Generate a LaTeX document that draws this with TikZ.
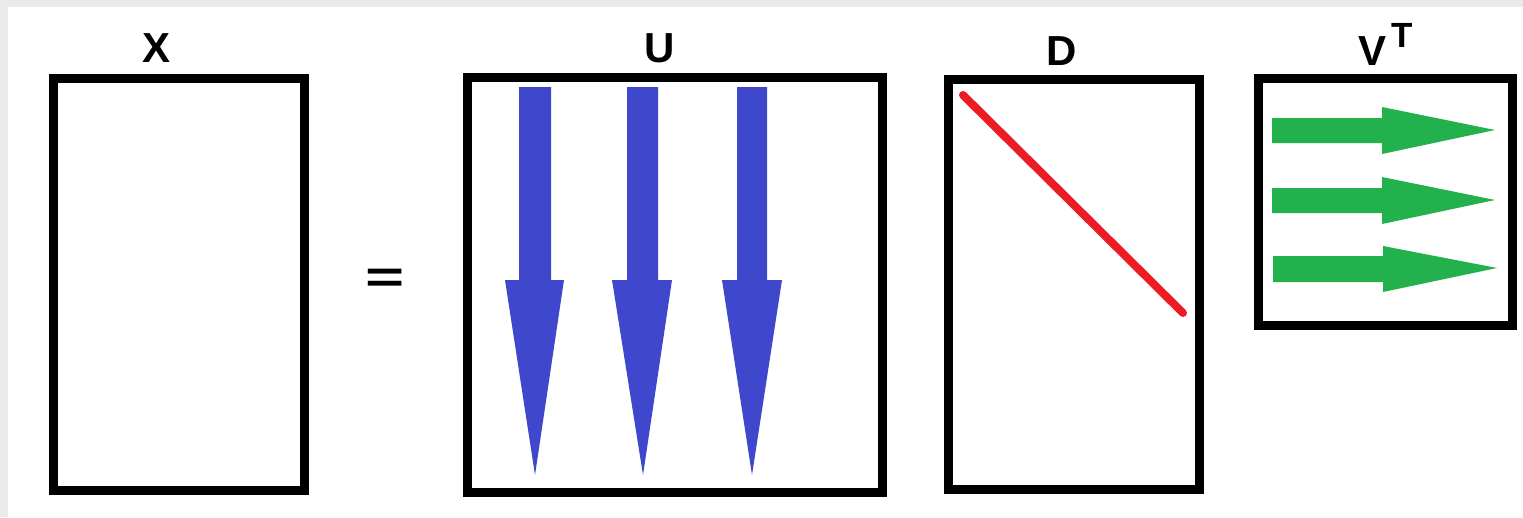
\documentclass[tikz,border=0pt]{standalone}
\usepackage{fontspec}
\setmainfont{Liberation Sans}
\definecolor{uBlue}{RGB}{63,72,204}
\definecolor{vGreen}{RGB}{34,177,76}
\definecolor{dRed}{RGB}{237,28,36}
\definecolor{frameGray}{RGB}{234,234,234}
\begin{document}
\begin{tikzpicture}[x=1pt,y=-1pt,
  mat/.style={draw=black,line width=9pt,rectangle,inner sep=0pt,outer sep=0pt,fill=white},
  lbl/.style={font=\fontsize{42}{42}\selectfont\bfseries,inner sep=0pt,anchor=base},
  uarrow/.style={fill=uBlue,draw=none},
  varrow/.style={fill=vGreen,draw=none}]
\useasboundingbox (0,0) rectangle (1523,517);
\fill[frameGray] (0,0) rectangle (1523,517);
\fill[white] (8,7) rectangle (1523,517);
% matrices
\node[mat,minimum width=251pt,minimum height=412pt] (X) at (179,284.5) {};
\node[mat,minimum width=415pt,minimum height=415.5pt] (U) at (674.5,284.75) {};
\node[mat,minimum width=251pt,minimum height=410pt] (D) at (1073.5,284.5) {};
\node[mat,minimum width=253.5pt,minimum height=247pt] (V) at (1385.25,202) {};
% labels
\node[lbl] (Xl) at (157,62) {X};
\node[lbl] (Ul) at (660,62) {U};
\node[lbl] (Dl) at (1062,65) {D};
\node[lbl] (Vl) at (1386,65) {V\hspace{5pt}\raisebox{18pt}{\fontsize{35}{35}\selectfont T}};
\node[font=\fontsize{67}{67}\selectfont\bfseries,inner sep=0pt,anchor=base] (eq) at (385,292) {\scalebox{1}[0.67]{=}};
% U columns
\fill[uarrow] (519,87) -- (551,87) -- (551,280) -- (564,280) -- (535,475) -- (505,280) -- (519,280) -- cycle;
\fill[uarrow] (627,87) -- (658,87) -- (658,280) -- (672,280) -- (643,475) -- (612,280) -- (627,280) -- cycle;
\fill[uarrow] (737,87) -- (767,87) -- (767,280) -- (782,280) -- (752,475) -- (722,280) -- (737,280) -- cycle;
% D diagonal
\coordinate (d1) at (963,95);
\coordinate (d2) at (1183,313);
\draw[dRed,line width=8pt,line cap=round] (d1) -- (d2);
% V rows
\fill[varrow] (1272,118) -- (1382,118) -- (1382,107) -- (1495,130) -- (1382,154) -- (1382,143) -- (1272,143) -- cycle;
\fill[varrow] (1272,188) -- (1382,188) -- (1382,177) -- (1495,200) -- (1382,224) -- (1382,213) -- (1272,213) -- cycle;
\fill[varrow] (1273,256) -- (1383,256) -- (1383,246) -- (1497,268) -- (1383,292) -- (1383,282) -- (1273,282) -- cycle;
\end{tikzpicture}
\end{document}
